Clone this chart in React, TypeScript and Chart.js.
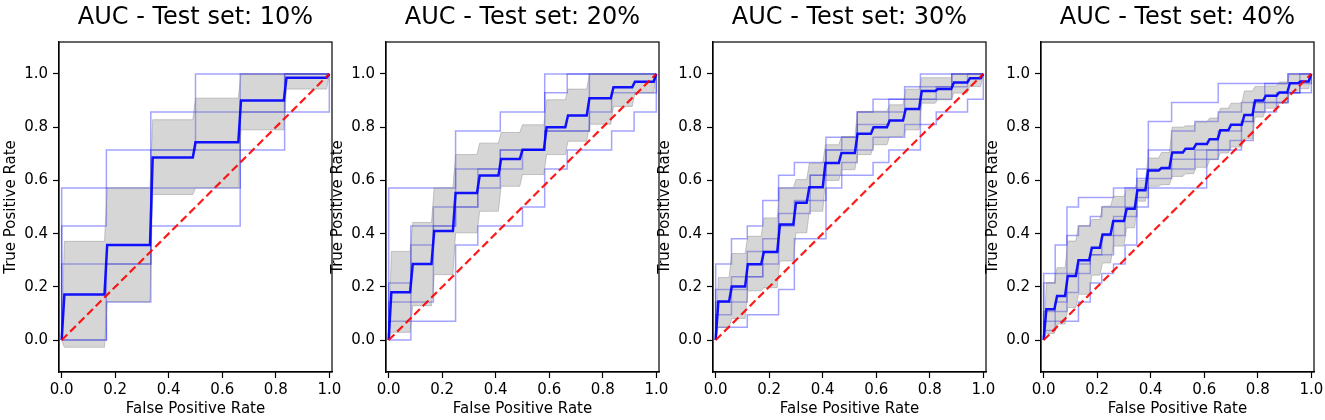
import { useEffect, useRef } from 'react';
import { Chart, registerables } from 'chart.js';

Chart.register(...registerables);
Chart.defaults.font.family = 'DejaVu Sans';
Chart.defaults.color = '#000';

const xTicks = [0, 0.2, 0.4, 0.6, 0.8, 1.0];
const yTicks = [0, 0.2, 0.4, 0.6, 0.8, 1.0];
const chanceFpr = [0, 1];
const chanceTpr = [0, 1];

// ---- Test set 10% ----
const meanFpr10 = [0, 0.01, 0.16, 0.17, 0.33, 0.34, 0.49, 0.5, 0.66, 0.67, 0.83, 0.84, 0.99, 1.0];
const meanTpr10 = [0, 0.171, 0.171, 0.357, 0.357, 0.686, 0.686, 0.743, 0.743, 0.9, 0.9, 0.986, 0.986, 1.0];
const upper10 = [0, 0.371, 0.371, 0.572, 0.572, 0.828, 0.828, 0.909, 0.909, 1.0, 1.0, 1.0, 1.0, 1.0];
const lower10 = [0, -0.027, -0.027, 0.144, 0.144, 0.547, 0.547, 0.572, 0.572, 0.79, 0.79, 0.943, 0.943, 1.0];
const folds10 = [
  [[0, 0], [0, 0.571], [0.167, 0.571], [0.167, 0.714], [0.833, 0.714], [0.833, 1], [1, 1]],
  [[0, 0], [0, 0.286], [0.333, 0.286], [0.333, 0.571], [0.667, 0.571], [0.667, 1], [1, 1]],
  [[0, 0], [0.167, 0], [0.167, 0.143], [0.333, 0.143], [0.333, 0.857], [1, 0.857], [1, 1]],
  [[0, 0], [0, 0.429], [0.167, 0.429], [0.167, 0.571], [0.333, 0.571], [0.333, 0.714], [0.5, 0.714], [0.5, 1], [1, 1]],
  [[0, 0], [0.167, 0], [0.167, 0.286], [0.333, 0.286], [0.333, 0.429], [0.667, 0.429], [0.667, 0.857], [0.833, 0.857], [0.833, 1], [1, 1]],
];

// ---- Test set 20% ----
const meanFpr20 = [0, 0.01, 0.08, 0.09, 0.16, 0.17, 0.24, 0.25, 0.33, 0.34, 0.41, 0.42, 0.49, 0.5, 0.58, 0.59, 0.66, 0.67, 0.74, 0.75, 0.83, 0.84, 0.91, 0.92, 0.99, 1.0];
const meanTpr20 = [0, 0.18, 0.18, 0.286, 0.286, 0.41, 0.41, 0.553, 0.553, 0.618, 0.618, 0.68, 0.68, 0.715, 0.715, 0.8, 0.8, 0.844, 0.844, 0.909, 0.909, 0.95, 0.95, 0.971, 0.971, 1.0];
const upper20 = [0, 0.333, 0.333, 0.442, 0.442, 0.572, 0.572, 0.697, 0.697, 0.74, 0.74, 0.78, 0.78, 0.809, 0.809, 0.903, 0.903, 0.943, 0.943, 1, 1, 1, 1, 1, 1, 1];
const lower20 = [0, 0.029, 0.029, 0.129, 0.129, 0.246, 0.246, 0.403, 0.403, 0.484, 0.484, 0.578, 0.578, 0.622, 0.622, 0.697, 0.697, 0.747, 0.747, 0.811, 0.811, 0.878, 0.878, 0.928, 0.928, 1];
const folds20 = [
  [[0, 0], [0, 0.571], [0.25, 0.571], [0.25, 0.786], [0.417, 0.786], [0.417, 0.857], [0.583, 0.857], [0.583, 1], [1, 1]],
  [[0, 0], [0.083, 0], [0.083, 0.071], [0.25, 0.071], [0.25, 0.357], [0.333, 0.357], [0.333, 0.429], [0.5, 0.429], [0.5, 0.5], [0.583, 0.5], [0.583, 0.643], [0.667, 0.643], [0.667, 0.714], [0.833, 0.714], [0.833, 0.786], [0.917, 0.786], [0.917, 0.857], [1, 0.857], [1, 1]],
  [[0, 0], [0, 0.214], [0.083, 0.214], [0.083, 0.429], [0.25, 0.429], [0.25, 0.643], [0.5, 0.643], [0.5, 0.714], [0.583, 0.714], [0.583, 0.929], [0.667, 0.929], [0.667, 1], [1, 1]],
  [[0, 0], [0, 0.143], [0.167, 0.143], [0.167, 0.5], [0.333, 0.5], [0.333, 0.571], [0.417, 0.571], [0.417, 0.714], [0.583, 0.714], [0.583, 0.786], [0.75, 0.786], [0.75, 0.857], [0.833, 0.857], [0.833, 0.929], [1, 0.929], [1, 1]],
  [[0, 0], [0, 0.071], [0.083, 0.071], [0.083, 0.357], [0.167, 0.357], [0.167, 0.429], [0.25, 0.429], [0.25, 0.5], [0.333, 0.5], [0.333, 0.643], [0.417, 0.643], [0.417, 0.714], [0.583, 0.714], [0.583, 0.786], [0.75, 0.786], [0.75, 1], [1, 1]],
];

// ---- Test set 30% ----
const meanFpr30 = [0, 0.01, 0.05, 0.06, 0.11, 0.12, 0.17, 0.18, 0.23, 0.24, 0.29, 0.3, 0.34, 0.35, 0.4, 0.41, 0.46, 0.47, 0.52, 0.53, 0.58, 0.59, 0.64, 0.65, 0.7, 0.71, 0.76, 0.77, 0.82, 0.83, 0.88, 0.89, 0.94, 0.95, 0.99, 1.0];
const meanTpr30 = [0, 0.145, 0.145, 0.201, 0.201, 0.285, 0.285, 0.331, 0.331, 0.434, 0.434, 0.516, 0.516, 0.574, 0.574, 0.665, 0.665, 0.703, 0.703, 0.775, 0.775, 0.8, 0.8, 0.825, 0.825, 0.868, 0.868, 0.936, 0.936, 0.943, 0.943, 0.968, 0.968, 0.984, 0.984, 1.0];
const upper30 = [0, 0.235, 0.235, 0.325, 0.325, 0.39, 0.39, 0.459, 0.459, 0.572, 0.572, 0.603, 0.603, 0.665, 0.665, 0.734, 0.734, 0.765, 0.765, 0.859, 0.859, 0.86, 0.86, 0.884, 0.884, 0.943, 0.943, 0.986, 0.986, 0.986, 0.986, 1, 1, 1, 1, 1];
const lower30 = [0, 0.047, 0.047, 0.081, 0.081, 0.185, 0.185, 0.197, 0.197, 0.297, 0.297, 0.403, 0.403, 0.484, 0.484, 0.6, 0.6, 0.64, 0.64, 0.697, 0.697, 0.734, 0.734, 0.765, 0.765, 0.79, 0.79, 0.89, 0.89, 0.903, 0.903, 0.928, 0.928, 0.953, 0.953, 1];
const folds30 = [
  [[0, 0], [0, 0.286], [0.059, 0.286], [0.059, 0.381], [0.118, 0.381], [0.118, 0.429], [0.176, 0.429], [0.176, 0.524], [0.235, 0.524], [0.235, 0.619], [0.294, 0.619], [0.294, 0.667], [0.412, 0.667], [0.412, 0.714], [0.471, 0.714], [0.471, 0.762], [0.529, 0.762], [0.529, 0.857], [0.588, 0.857], [0.588, 0.905], [0.706, 0.905], [0.706, 0.952], [0.765, 0.952], [0.765, 1], [1, 1]],
  [[0, 0], [0, 0.048], [0.118, 0.048], [0.118, 0.095], [0.235, 0.095], [0.235, 0.19], [0.294, 0.19], [0.294, 0.381], [0.412, 0.381], [0.412, 0.571], [0.471, 0.571], [0.471, 0.619], [0.588, 0.619], [0.588, 0.667], [0.647, 0.667], [0.647, 0.714], [0.765, 0.714], [0.765, 0.81], [0.824, 0.81], [0.824, 0.857], [0.941, 0.857], [0.941, 0.905], [1, 0.905], [1, 1]],
  [[0, 0], [0, 0.19], [0.059, 0.19], [0.059, 0.238], [0.118, 0.238], [0.118, 0.333], [0.176, 0.333], [0.176, 0.381], [0.235, 0.381], [0.235, 0.476], [0.294, 0.476], [0.294, 0.524], [0.353, 0.524], [0.353, 0.619], [0.412, 0.619], [0.412, 0.714], [0.529, 0.714], [0.529, 0.81], [0.647, 0.81], [0.647, 0.857], [0.706, 0.857], [0.706, 0.905], [0.824, 0.905], [0.824, 0.952], [0.882, 0.952], [0.882, 1], [1, 1]],
  [[0, 0], [0, 0.095], [0.059, 0.095], [0.059, 0.19], [0.118, 0.19], [0.118, 0.238], [0.176, 0.238], [0.176, 0.286], [0.235, 0.286], [0.235, 0.429], [0.294, 0.429], [0.294, 0.476], [0.353, 0.476], [0.353, 0.524], [0.412, 0.524], [0.412, 0.619], [0.471, 0.619], [0.471, 0.667], [0.529, 0.667], [0.529, 0.714], [0.588, 0.714], [0.588, 0.762], [0.706, 0.762], [0.706, 0.81], [0.765, 0.81], [0.765, 0.905], [0.882, 0.905], [0.882, 0.952], [0.941, 0.952], [0.941, 1], [1, 1]],
  [[0, 0], [0, 0.143], [0.118, 0.143], [0.118, 0.238], [0.176, 0.238], [0.176, 0.333], [0.235, 0.333], [0.235, 0.571], [0.353, 0.571], [0.353, 0.619], [0.412, 0.619], [0.412, 0.762], [0.529, 0.762], [0.529, 0.857], [0.647, 0.857], [0.647, 0.905], [0.765, 0.905], [0.765, 0.952], [0.882, 0.952], [0.882, 1], [1, 1]],
];

// ---- Test set 40% ----
const meanFpr40 = [0, 0.01, 0.04, 0.05, 0.08, 0.09, 0.12, 0.13, 0.17, 0.18, 0.21, 0.22, 0.25, 0.26, 0.3, 0.31, 0.34, 0.35, 0.38, 0.39, 0.43, 0.44, 0.47, 0.48, 0.52, 0.53, 0.56, 0.57, 0.61, 0.62, 0.65, 0.66, 0.69, 0.7, 0.74, 0.75, 0.78, 0.79, 0.82, 0.83, 0.87, 0.88, 0.91, 0.92, 0.95, 0.96, 0.99, 1.0];
const meanTpr40 = [0, 0.116, 0.116, 0.166, 0.166, 0.241, 0.241, 0.3, 0.3, 0.347, 0.347, 0.397, 0.397, 0.447, 0.447, 0.493, 0.493, 0.563, 0.563, 0.637, 0.637, 0.647, 0.647, 0.705, 0.705, 0.719, 0.719, 0.737, 0.737, 0.755, 0.755, 0.788, 0.788, 0.809, 0.809, 0.846, 0.846, 0.9, 0.9, 0.918, 0.918, 0.93, 0.93, 0.965, 0.965, 0.972, 0.972, 1.0];
const upper40 = [0, 0.216, 0.216, 0.272, 0.272, 0.372, 0.372, 0.43, 0.43, 0.453, 0.453, 0.503, 0.503, 0.54, 0.54, 0.565, 0.565, 0.6, 0.6, 0.684, 0.684, 0.705, 0.705, 0.8, 0.8, 0.805, 0.805, 0.82, 0.82, 0.834, 0.834, 0.871, 0.871, 0.89, 0.89, 0.936, 0.936, 0.953, 0.953, 0.955, 0.955, 0.97, 0.97, 1, 1, 1, 1, 1];
const lower40 = [0, 0.025, 0.025, 0.06, 0.06, 0.122, 0.122, 0.172, 0.172, 0.244, 0.244, 0.29, 0.29, 0.353, 0.353, 0.422, 0.422, 0.522, 0.522, 0.578, 0.578, 0.584, 0.584, 0.615, 0.615, 0.625, 0.625, 0.649, 0.649, 0.678, 0.678, 0.703, 0.703, 0.725, 0.725, 0.756, 0.756, 0.838, 0.838, 0.871, 0.871, 0.89, 0.89, 0.935, 0.935, 0.945, 0.945, 1];
const folds40 = [
  [[0, 0], [0, 0.25], [0.043, 0.25], [0.043, 0.357], [0.087, 0.357], [0.087, 0.5], [0.13, 0.5], [0.13, 0.536], [0.261, 0.536], [0.261, 0.571], [0.348, 0.571], [0.348, 0.607], [0.391, 0.607], [0.391, 0.821], [0.478, 0.821], [0.478, 0.893], [0.652, 0.893], [0.652, 0.964], [0.913, 0.964], [0.913, 1], [1, 1]],
  [[0, 0], [0, 0.036], [0.043, 0.036], [0.043, 0.071], [0.13, 0.071], [0.13, 0.143], [0.174, 0.143], [0.174, 0.214], [0.217, 0.214], [0.217, 0.25], [0.261, 0.25], [0.261, 0.286], [0.304, 0.286], [0.304, 0.357], [0.348, 0.357], [0.348, 0.5], [0.391, 0.5], [0.391, 0.571], [0.609, 0.571], [0.609, 0.714], [0.696, 0.714], [0.696, 0.75], [0.739, 0.75], [0.739, 0.821], [0.783, 0.821], [0.783, 0.857], [0.826, 0.857], [0.826, 0.893], [0.913, 0.893], [0.913, 0.929], [1, 0.929], [1, 1]],
  [[0, 0], [0, 0.214], [0.043, 0.214], [0.043, 0.25], [0.087, 0.25], [0.087, 0.393], [0.13, 0.393], [0.13, 0.429], [0.174, 0.429], [0.174, 0.464], [0.217, 0.464], [0.217, 0.5], [0.304, 0.5], [0.304, 0.571], [0.348, 0.571], [0.348, 0.643], [0.391, 0.643], [0.391, 0.714], [0.478, 0.714], [0.478, 0.786], [0.565, 0.786], [0.565, 0.821], [0.652, 0.821], [0.652, 0.857], [0.739, 0.857], [0.739, 0.893], [0.826, 0.893], [0.826, 0.964], [0.913, 0.964], [0.913, 1], [1, 1]],
  [[0, 0], [0, 0.107], [0.043, 0.107], [0.043, 0.143], [0.087, 0.143], [0.087, 0.25], [0.13, 0.25], [0.13, 0.286], [0.174, 0.286], [0.174, 0.321], [0.217, 0.321], [0.217, 0.393], [0.261, 0.393], [0.261, 0.464], [0.304, 0.464], [0.304, 0.5], [0.348, 0.5], [0.348, 0.571], [0.391, 0.571], [0.391, 0.643], [0.478, 0.643], [0.478, 0.679], [0.565, 0.679], [0.565, 0.714], [0.652, 0.714], [0.652, 0.786], [0.739, 0.786], [0.739, 0.821], [0.783, 0.821], [0.783, 0.893], [0.87, 0.893], [0.87, 0.929], [0.957, 0.929], [0.957, 1], [1, 1]],
  [[0, 0], [0, 0.071], [0.043, 0.071], [0.043, 0.107], [0.087, 0.107], [0.087, 0.179], [0.13, 0.179], [0.13, 0.25], [0.174, 0.25], [0.174, 0.321], [0.261, 0.321], [0.261, 0.393], [0.304, 0.393], [0.304, 0.464], [0.348, 0.464], [0.348, 0.536], [0.391, 0.536], [0.391, 0.607], [0.478, 0.607], [0.478, 0.643], [0.565, 0.643], [0.565, 0.679], [0.652, 0.679], [0.652, 0.714], [0.739, 0.714], [0.739, 0.75], [0.783, 0.75], [0.783, 0.857], [0.87, 0.857], [0.87, 0.893], [0.913, 0.893], [0.913, 0.929], [0.957, 0.929], [0.957, 0.964], [1, 0.964], [1, 1]],
];

const frame = {
  id: 'frame',
  afterDraw(chart: Chart) {
    const { ctx, chartArea: a } = chart;
    ctx.save();
    ctx.strokeStyle = '#000';
    ctx.lineWidth = 1.2;
    ctx.strokeRect(a.left, a.top, a.right - a.left, a.bottom - a.top);
    ctx.restore();
  },
};

type PanelProps = {
  title: string;
  left: number;
  meanFpr: number[];
  meanTpr: number[];
  upper: number[];
  lower: number[];
  folds: number[][][];
};

const toPoints = (xs: number[], ys: number[]) => xs.map((x, i) => ({ x, y: ys[i] }));

const RocPanel = ({ title, left, meanFpr, meanTpr, upper, lower, folds }: PanelProps) => {
  const chartRef = useRef<HTMLCanvasElement | null>(null);

  useEffect(() => {
    if (!chartRef.current) return;
    const chart = new Chart(chartRef.current, {
      type: 'line',
      data: {
        datasets: [
          {
            data: toPoints(chanceFpr, chanceTpr),
            borderColor: 'rgba(255,0,0,0.9)',
            borderWidth: 2.2,
            borderDash: [8, 4],
            order: 0,
          },
          {
            data: toPoints(meanFpr, meanTpr),
            borderColor: 'rgba(0,0,255,0.92)',
            borderWidth: 2.5,
            order: 1,
          },
          {
            data: toPoints(meanFpr, upper),
            borderColor: 'rgba(128,128,128,0.4)',
            borderWidth: 1,
            backgroundColor: 'rgba(128,128,128,0.32)',
            fill: '+1',
            order: 2,
          },
          {
            data: toPoints(meanFpr, lower),
            borderColor: 'rgba(128,128,128,0.4)',
            borderWidth: 1,
            fill: false,
            order: 2,
          },
          ...folds.map((f) => ({
            data: f.map(([x, y]) => ({ x, y })),
            borderColor: 'rgba(0,0,255,0.36)',
            borderWidth: 1.5,
            fill: false,
            order: 3,
          })),
        ],
      },
      options: {
        animation: false,
        responsive: true,
        maintainAspectRatio: false,
        layout: { padding: { left: 0, right: 14, top: 0, bottom: 0 } },
        elements: { point: { radius: 0, hoverRadius: 0 }, line: { tension: 0 } },
        events: [],
        plugins: {
          legend: { display: false },
          tooltip: { enabled: false },
          title: {
            display: true,
            text: title,
            fullSize: false,
            color: '#000',
            font: { size: 24, weight: 'normal' },
            padding: { top: 3, bottom: 10.2 },
          },
        },
        scales: {
          x: {
            type: 'linear',
            min: -0.01,
            max: 1.01,
            afterBuildTicks: (s: any) => {
              s.ticks = xTicks.map((v) => ({ value: v }));
            },
            afterFit: (s: any) => {
              s.height = 48;
            },
            ticks: {
              callback: (v: any) => Number(v).toFixed(1),
              font: { size: 15 },
              color: '#000',
              padding: 3,
              maxRotation: 0,
              autoSkip: false,
            },
            grid: { drawOnChartArea: false, tickLength: 6, color: '#000', tickWidth: 1.2 },
            border: { color: '#000', width: 1.2 },
            title: {
              display: true,
              text: 'False Positive Rate',
              color: '#000',
              font: { size: 15 },
              padding: { top: 0, bottom: 1.5 },
            },
          },
          y: {
            type: 'linear',
            min: -0.12,
            max: 1.12,
            afterBuildTicks: (s: any) => {
              s.ticks = yTicks.map((v) => ({ value: v }));
            },
            afterFit: (s: any) => {
              s.width = 59;
            },
            ticks: {
              callback: (v: any) => Number(v).toFixed(1),
              font: { size: 15 },
              color: '#000',
              padding: 5,
              autoSkip: false,
            },
            grid: { drawOnChartArea: false, tickLength: 6, color: '#000', tickWidth: 1.2 },
            border: { color: '#000', width: 1.2 },
            title: {
              display: true,
              text: 'True Positive Rate',
              color: '#000',
              font: { size: 15 },
              padding: { top: 2.5, bottom: 0 },
            },
          },
        },
      },
      plugins: [frame],
    });

    return () => {
      chart.destroy();
    };
  }, []);

  return (
    <div style={{ position: 'absolute', left, top: 0, width: 346, height: 420 }}>
      <canvas ref={chartRef}></canvas>
    </div>
  );
};

const App = () => {
  return (
    <div style={{ position: 'fixed', left: 0, top: 0, width: 1325, height: 420, background: '#fff' }}>
      <RocPanel title="AUC - Test set: 10%" left={0} meanFpr={meanFpr10} meanTpr={meanTpr10} upper={upper10} lower={lower10} folds={folds10} />
      <RocPanel title="AUC - Test set: 20%" left={327} meanFpr={meanFpr20} meanTpr={meanTpr20} upper={upper20} lower={lower20} folds={folds20} />
      <RocPanel title="AUC - Test set: 30%" left={654} meanFpr={meanFpr30} meanTpr={meanTpr30} upper={upper30} lower={lower30} folds={folds30} />
      <RocPanel title="AUC - Test set: 40%" left={982} meanFpr={meanFpr40} meanTpr={meanTpr40} upper={upper40} lower={lower40} folds={folds40} />
    </div>
  );
};

export default App;
